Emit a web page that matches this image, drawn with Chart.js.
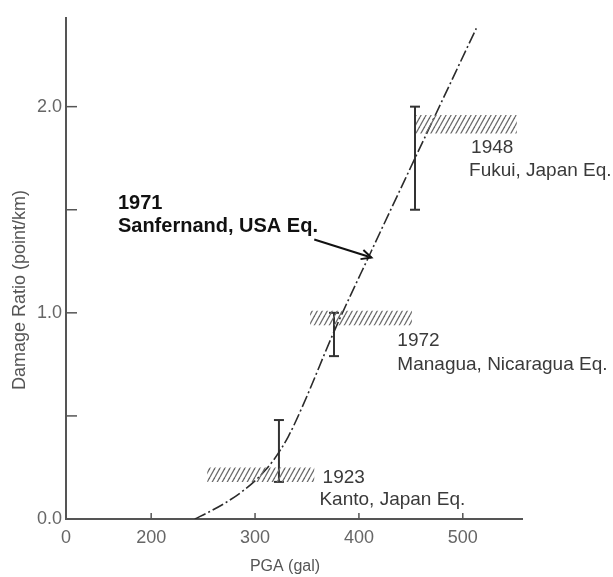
<!DOCTYPE html>
<html>
<head>
<meta charset="utf-8">
<script src="https://cdn.jsdelivr.net/npm/chart.js@4.4.1/dist/chart.umd.min.js"></script>
<style>
  html, body { margin: 0; padding: 0; background: #fff; }
  canvas { display: block; }
</style>
</head>
<body>
<canvas id="canvas" width="613" height="577"></canvas>
<script>
const canvas = document.getElementById('canvas');
const ctx = canvas.getContext('2d');

// x axis is broken: the origin "0" sits where a linear PGA axis would read 118
const xTickValues = [118, 200, 300, 400, 500];
const xTickLabels = ['0', '200', '300', '400', '500'];
const yTickValues = [0, 0.5, 1, 1.5, 2];

// damage ratio curve (dash-dot)
const curveX = [242, 256, 272, 288, 303, 317, 332, 346, 377, 412, 454, 513];
const curveY = [0, 0.035, 0.08, 0.135, 0.2, 0.28, 0.4, 0.55, 0.92, 1.3, 1.75, 2.38];

// observed earthquakes: error bars and hatched PGA ranges
const quakes = ['1923 Kanto', '1972 Managua', '1948 Fukui'];
const barX = [323, 376, 454];
const barLow = [0.18, 0.79, 1.5];
const barHigh = [0.48, 1.0, 2.0];
const bandXFrom = [254, 353, 455];
const bandXTo = [357, 451, 552];
const bandYFrom = [0.18, 0.94, 1.87];
const bandYTo = [0.25, 1.01, 1.96];

// 1971 San Fernando arrow
const arrowX = [357, 412];
const arrowY = [1.356, 1.268];

// text notes
const noteText = ['1923', 'Kanto, Japan Eq.', '1972', 'Managua, Nicaragua Eq.', '1948', 'Fukui, Japan Eq.', '1971', 'Sanfernand, USA Eq.'];
const noteX = [365, 362, 437, 437, 508, 506, 168, 168];
const noteY = [0.2, 0.093, 0.863, 0.75, 1.8, 1.69, 1.53, 1.42];
const noteBold = [false, false, false, false, false, false, true, true];

const FONT = '"Liberation Sans", Arial, sans-serif';

const makeHatch = () => {
  const p = document.createElement('canvas');
  p.width = 5;
  p.height = 9;
  const c = p.getContext('2d');
  c.strokeStyle = '#6a6a6a';
  c.lineWidth = 1.3;
  [-5, 0, 5].forEach((x0) => {
    c.beginPath();
    c.moveTo(x0, 9);
    c.lineTo(x0 + 5, 0);
    c.stroke();
  });
  return ctx.createPattern(p, 'repeat');
};
const hatch = makeHatch();

const datasets = [];

// hatched bands as closed shapes
quakes.forEach((q, i) => {
  datasets.push({
    label: q + ' range',
    data: [
      { x: bandXFrom[i], y: bandYFrom[i] },
      { x: bandXTo[i], y: bandYFrom[i] },
      { x: bandXTo[i], y: bandYTo[i] },
      { x: bandXFrom[i], y: bandYTo[i] },
      { x: bandXFrom[i], y: bandYFrom[i] },
    ],
    showLine: true,
    fill: 'shape',
    backgroundColor: hatch,
    borderWidth: 0,
    borderColor: 'rgba(0,0,0,0)',
    pointRadius: 0,
  });
});

datasets.push({
  label: 'curve',
  data: curveX.map((x, i) => ({ x, y: curveY[i] })),
  showLine: true,
  borderColor: '#2b2b2b',
  borderWidth: 1.6,
  borderDash: [12, 3, 2, 3],
  cubicInterpolationMode: 'monotone',
  pointRadius: 0,
  fill: false,
});

quakes.forEach((q, i) => {
  datasets.push({
    label: q + ' bar',
    data: [
      { x: barX[i], y: barLow[i] },
      { x: barX[i], y: barHigh[i] },
    ],
    showLine: true,
    borderColor: '#333',
    borderWidth: 2,
    pointStyle: 'line',
    pointRadius: 5,
    pointBorderWidth: 2,
    pointBorderColor: '#333',
    fill: false,
  });
});

datasets.push({
  label: 'arrow',
  data: arrowX.map((x, i) => ({ x, y: arrowY[i] })),
  showLine: true,
  borderColor: '#111',
  borderWidth: 2,
  pointRadius: 0,
  fill: false,
});

const decorations = {
  id: 'decorations',
  afterDatasetsDraw(chart) {
    const c = chart.ctx;
    const xs = chart.scales.x;
    const ys = chart.scales.y;
    c.save();

    // inward tick marks
    c.strokeStyle = '#555';
    c.lineWidth = 1.5;
    xTickValues.slice(1).forEach((v) => {
      const px = xs.getPixelForValue(v);
      c.beginPath();
      c.moveTo(px, ys.bottom);
      c.lineTo(px, ys.bottom - 6);
      c.stroke();
    });
    yTickValues.slice(1).forEach((v) => {
      const py = ys.getPixelForValue(v);
      c.beginPath();
      c.moveTo(xs.left, py);
      c.lineTo(xs.left + 11, py);
      c.stroke();
    });

    // arrow head
    const pts = chart.getDatasetMeta(datasets.length - 1).data;
    const a = pts[0];
    const b = pts[1];
    const ang = Math.atan2(b.y - a.y, b.x - a.x);
    c.strokeStyle = '#111';
    c.lineWidth = 2;
    c.beginPath();
    c.moveTo(b.x - 11 * Math.cos(ang - 0.45), b.y - 11 * Math.sin(ang - 0.45));
    c.lineTo(b.x, b.y);
    c.lineTo(b.x - 11 * Math.cos(ang + 0.45), b.y - 11 * Math.sin(ang + 0.45));
    c.stroke();

    // notes
    c.textBaseline = 'middle';
    c.textAlign = 'left';
    noteText.forEach((t, i) => {
      c.font = noteBold[i] ? 'bold 20px ' + FONT : '19px ' + FONT;
      c.fillStyle = noteBold[i] ? '#111' : '#3a3a3a';
      c.fillText(t, xs.getPixelForValue(noteX[i]), ys.getPixelForValue(noteY[i]));
    });

    // axis titles
    c.fillStyle = '#555';
    c.textAlign = 'center';
    c.font = '16px ' + FONT;
    c.fillText('PGA (gal)', 285, 567);
    c.save();
    c.translate(20, 290);
    c.rotate(-Math.PI / 2);
    c.font = '18px ' + FONT;
    c.fillText('Damage Ratio (point/km)', 0, 0);
    c.restore();

    c.restore();
  },
};

const chart = new Chart(ctx, {
  type: 'scatter',
  data: { datasets },
  options: {
    responsive: false,
    animation: false,
    layout: { autoPadding: false, padding: { top: 18, right: 91, left: 0, bottom: 0 } },
    plugins: { legend: { display: false }, tooltip: { enabled: false } },
    scales: {
      x: {
        type: 'linear',
        min: 118,
        max: 557,
        afterFit: (s) => { s.height = 58; },
        afterBuildTicks: (s) => { s.ticks = xTickValues.map((value) => ({ value })); },
        grid: { drawOnChartArea: false, drawTicks: false },
        border: { display: true, color: '#555', width: 2 },
        ticks: {
          padding: 8,
          color: '#666',
          font: { family: FONT, size: 18 },
          callback: (v) => xTickLabels[xTickValues.indexOf(v)],
        },
      },
      y: {
        type: 'linear',
        min: 0,
        max: 2.43,
        afterFit: (s) => { s.width = 66; },
        afterBuildTicks: (s) => { s.ticks = yTickValues.map((value) => ({ value })); },
        grid: { drawOnChartArea: false, drawTicks: false },
        border: { display: true, color: '#555', width: 2 },
        ticks: {
          padding: 4,
          color: '#666',
          font: { family: FONT, size: 18 },
          callback: (v) => (v % 1 === 0 ? v.toFixed(1) : ''),
        },
      },
    },
  },
  plugins: [decorations],
});
</script>
</body>
</html>
